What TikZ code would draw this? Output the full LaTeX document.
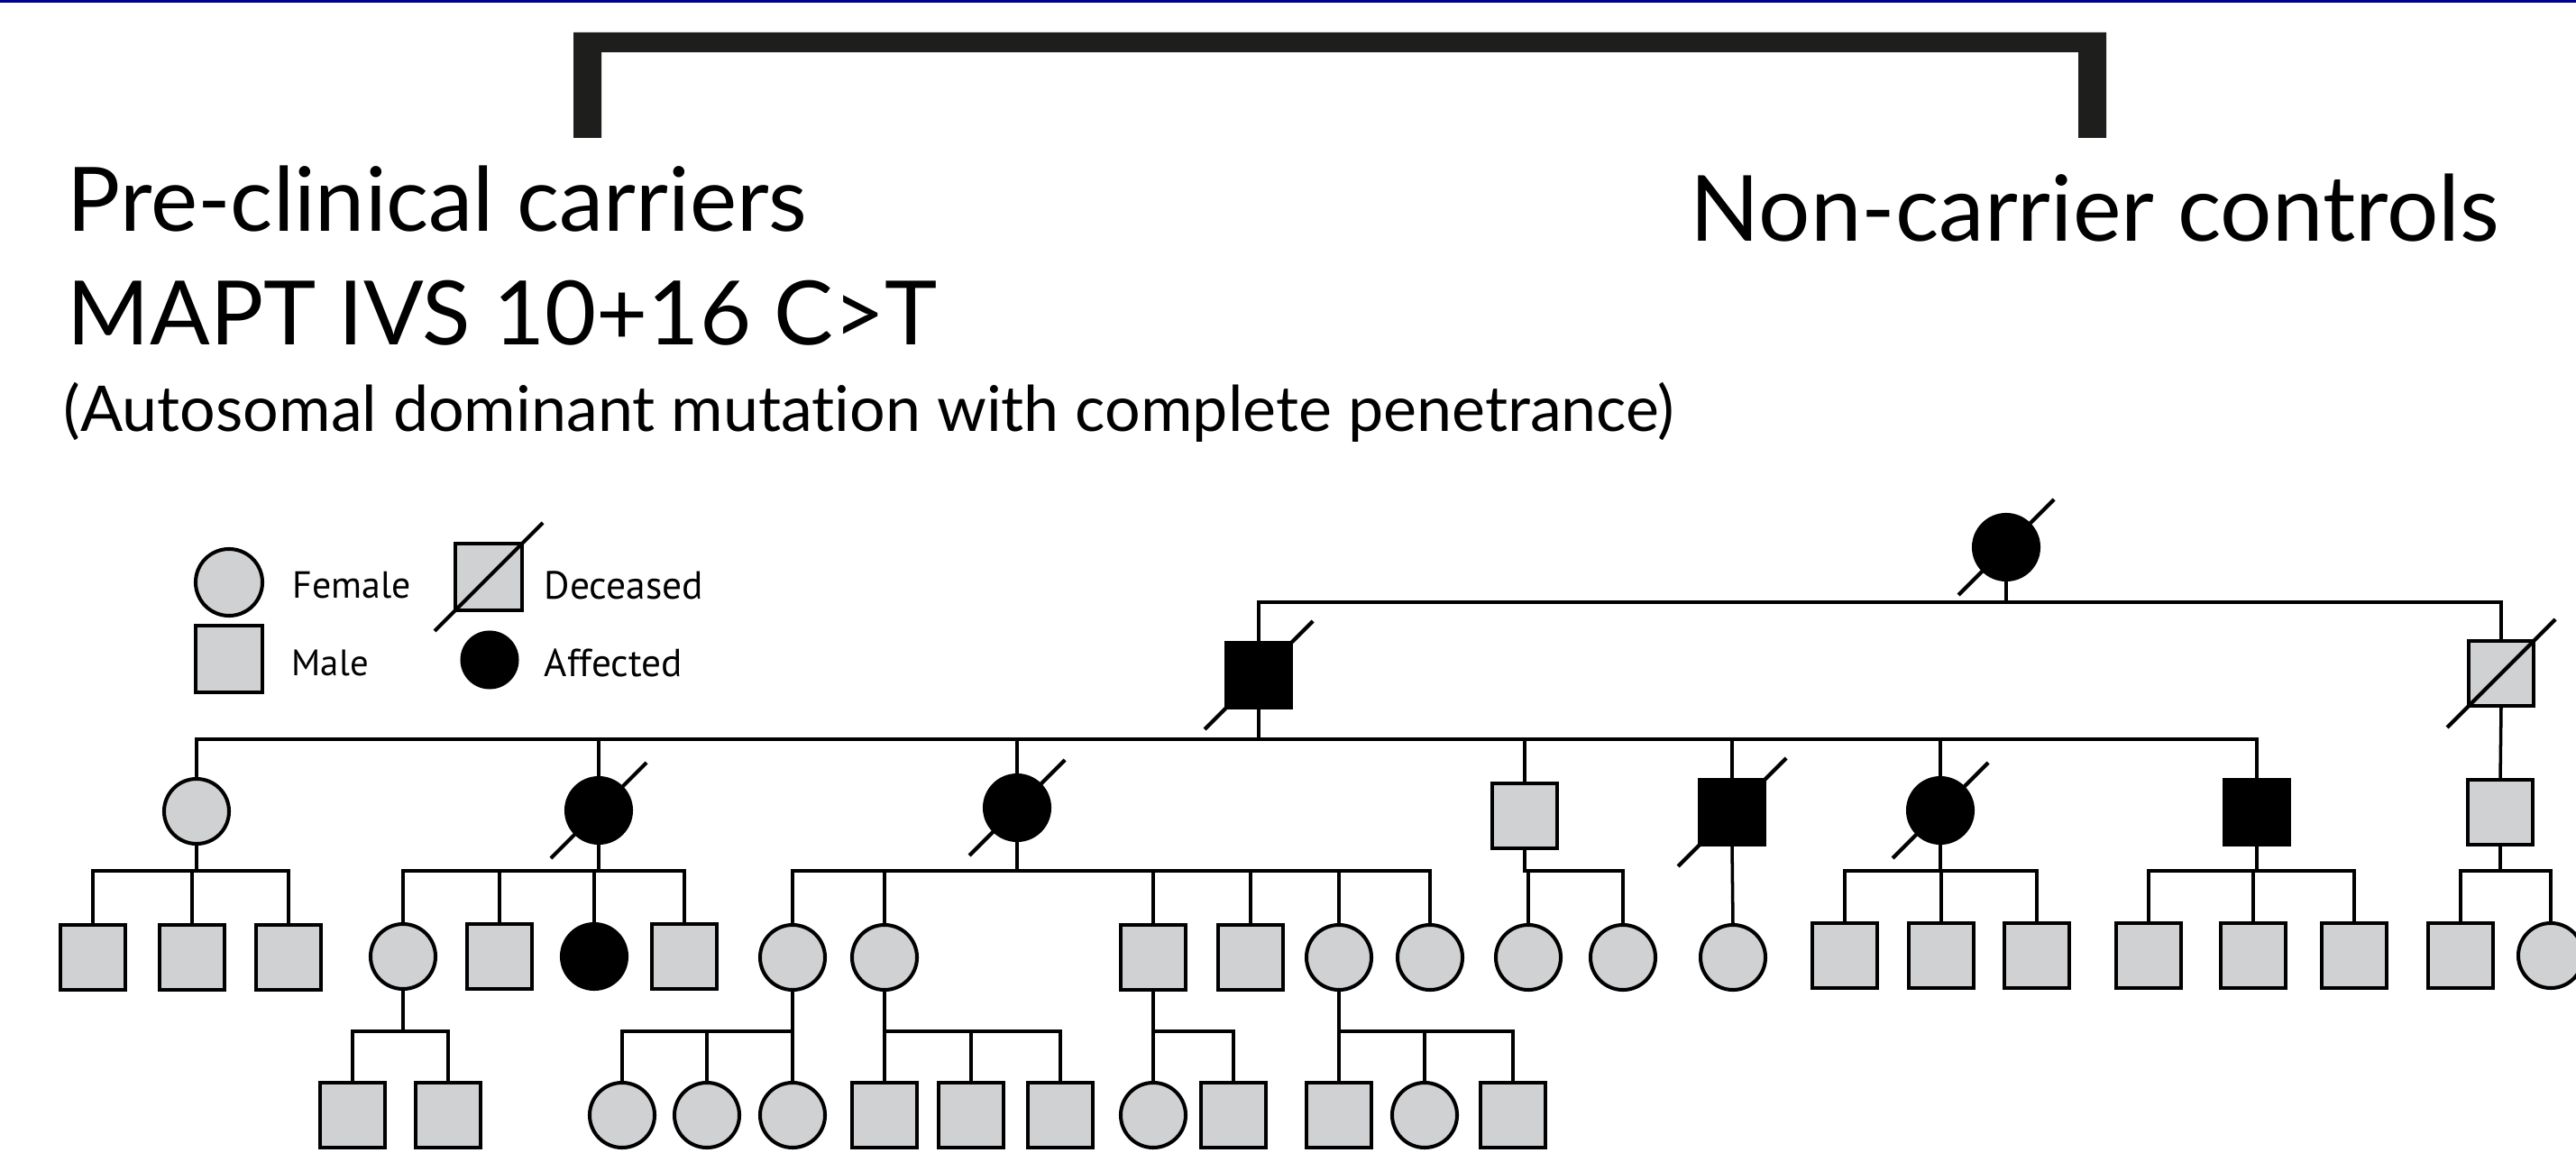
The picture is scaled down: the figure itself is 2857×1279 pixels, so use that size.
\documentclass[tikz,border=0pt]{standalone}
\usepackage{fontspec}
\setmainfont{Lato}[Ligatures=NoCommon]
\newfontfamily\legendfont{PT Sans}
\usetikzlibrary{calc}

\definecolor{pgrey}{RGB}{208,209,211}
\definecolor{barblack}{RGB}{30,30,28}
\definecolor{rulblue}{RGB}{0,0,150}

% scale a text to a given width
\newcommand\fitto[2]{\resizebox{#1}{!}{#2}}

\tikzset{
  person/.style={draw=black, line width=1.15pt, fill=pgrey, minimum size=0.72cm,
                 inner sep=0pt, outer sep=0pt},
  fem/.style={person, circle},
  mal/.style={person, rectangle},
  aff/.style={fill=black},
  conn/.style={line width=1pt, line cap=rect},
  slashline/.style={line width=1.2pt},
  title/.style={anchor=base west, inner sep=0pt},
  legtext/.style={anchor=base west, inner sep=0pt, font=\legendfont},
}

% deceased mark: a diagonal stroke through a symbol
\newcommand\strike[2]{\draw[slashline] ($(#1)+(-#2,#2)$) -- ($(#1)+(#2,-#2)$);}

% sibship: parent, y of the sibship line, leftmost child, rightmost child, all children
\newcommand\sibship[5]{%
  \coordinate (sl) at (0,#2);
  \draw[conn] (#1.south) -- (#1.south |- sl);
  \draw[conn] (#3.north |- sl) -- (#4.north |- sl);
  \foreach \kid in {#5} {\draw[conn] (\kid.north) -- (\kid.north |- sl);}
}

\begin{document}
\begin{tikzpicture}[x=0.01cm, y=-0.01cm]
\fill[white] (0,0) rectangle (2857,1279);
\useasboundingbox (0,0) rectangle (2857,1279);

% top rule
\fill[rulblue] (0,0) rectangle (2857,3);

% bracket
\fill[barblack] (636,36) -- (2336,36) -- (2336,153) -- (2305,153) -- (2305,58)
  -- (667,58) -- (667,153) -- (636,153) -- cycle;

% titles
\node[title] (t1) at (74,257) {\fitto{8.2cm}{Pre-clinical carriers}};
\node[title] (t2) at (74,383) {\fitto{9.64cm}{MAPT IVS 10+16 C>T}};
\node[title] (t3) at (70,478) {\fitto{17.85cm}{(Autosomal dominant mutation with complete penetrance)}};
\node[title] (t4) at (1874,267) {\fitto{8.97cm}{Non-carrier controls}};

% legend
\node[fem, minimum size=0.74cm] (lf) at (254,646) {};
\node[mal, minimum size=0.74cm] (lm) at (254,731) {};
\node[mal, minimum size=0.74cm] (ld) at (542,640) {};
\node[fem, aff, draw=none, minimum size=0.65cm] (la) at (543,732) {};
\strike{ld}{60}
\node[legtext] (lft) at (324,663) {\fitto{1.31cm}{Female}};
\node[legtext] (lmt) at (323,749) {\fitto{0.85cm}{Male}};
\node[legtext] (ldt) at (603,664) {\fitto{1.76cm}{Deceased}};
\node[legtext] (lat) at (603,750) {\fitto{1.53cm}{Affected}};

% generation I
\node[fem, aff] (g1) at (2225,607) {};

% generation II
\node[mal, aff] (m2a) at (1396,749) {};
\node[mal] (m2b) at (2774,747) {};

% generation III
\node[fem] (r3a) at (218,900) {};
\node[fem, aff] (r3b) at (664,899) {};
\node[fem, aff] (r3c) at (1128,896) {};
\node[mal] (r3d) at (1691,905) {};
\node[mal, aff] (r3e) at (1921,901) {};
\node[fem, aff] (r3f) at (2152,899) {};
\node[mal, aff] (r3g) at (2503,901) {};
\node[mal] (r3h) at (2773,901) {};

% generation IV
\node[mal] (r4a1) at (103,1062) {};
\node[mal] (r4a2) at (213,1062) {};
\node[mal] (r4a3) at (320,1062) {};
\node[fem] (r4b1) at (447,1061) {};
\node[mal] (r4b2) at (554,1061) {};
\node[fem, aff] (r4b3) at (659,1061) {};
\node[mal] (r4b4) at (759,1061) {};
\node[fem] (r4c1) at (879,1062) {};
\node[fem] (r4c2) at (981,1062) {};
\node[mal] (r4c3) at (1279,1062) {};
\node[mal] (r4c4) at (1387,1062) {};
\node[fem] (r4c5) at (1485,1062) {};
\node[fem] (r4c6) at (1586,1062) {};
\node[fem] (r4d1) at (1695,1062) {};
\node[fem] (r4d2) at (1800,1062) {};
\node[fem] (r4e1) at (1922,1062) {};
\node[mal] (r4f1) at (2046,1060) {};
\node[mal] (r4f2) at (2153,1060) {};
\node[mal] (r4f3) at (2259,1060) {};
\node[mal] (r4g1) at (2383,1060) {};
\node[mal] (r4g2) at (2499,1060) {};
\node[mal] (r4g3) at (2611,1060) {};
\node[mal] (r4h1) at (2729,1060) {};
\node[fem] (r4h2) at (2829,1060) {};

% generation V
\node[mal] (r5a1) at (391,1237) {};
\node[mal] (r5a2) at (497,1237) {};
\node[fem] (r5b1) at (690,1237) {};
\node[fem] (r5b2) at (784,1237) {};
\node[fem] (r5b3) at (879,1237) {};
\node[mal] (r5c1) at (981,1237) {};
\node[mal] (r5c2) at (1077,1237) {};
\node[mal] (r5c3) at (1176,1237) {};
\node[fem] (r5d1) at (1279,1237) {};
\node[mal] (r5d2) at (1368,1237) {};
\node[mal] (r5e1) at (1485,1237) {};
\node[fem] (r5e2) at (1580,1237) {};
\node[mal] (r5e3) at (1678,1237) {};

% deceased marks
\strike{g1}{53}
\strike{m2a}{60}
\strike{m2b}{60}
\strike{r3b}{53}
\strike{r3c}{53}
\strike{r3e}{60}
\strike{r3f}{53}

% lines of descent
\sibship{g1}{668}{m2a}{m2b}{m2a,m2b}
\sibship{m2a}{820}{r3a}{r3g}{r3a,r3b,r3c,r3d,r3e,r3f,r3g}
\draw[conn] (m2b.south) -- (r3h.north);

\sibship{r3a}{966}{r4a1}{r4a3}{r4a1,r4a2,r4a3}
\sibship{r3b}{966}{r4b1}{r4b4}{r4b1,r4b2,r4b3,r4b4}
\sibship{r3c}{966}{r4c1}{r4c6}{r4c1,r4c2,r4c3,r4c4,r4c5,r4c6}
\sibship{r3d}{966}{r4d1}{r4d2}{r4d1,r4d2}
\draw[conn] (r3e.south) -- (r4e1.north);
\sibship{r3f}{966}{r4f1}{r4f3}{r4f1,r4f2,r4f3}
\sibship{r3g}{966}{r4g1}{r4g3}{r4g1,r4g2,r4g3}
\sibship{r3h}{966}{r4h1}{r4h2}{r4h1,r4h2}

\sibship{r4b1}{1144}{r5a1}{r5a2}{r5a1,r5a2}
\sibship{r4c1}{1144}{r5b1}{r5b3}{r5b1,r5b2,r5b3}
\sibship{r4c2}{1144}{r5c1}{r5c3}{r5c1,r5c2,r5c3}
\sibship{r4c3}{1144}{r5d1}{r5d2}{r5d1,r5d2}
\sibship{r4c5}{1144}{r5e1}{r5e3}{r5e1,r5e2,r5e3}
\end{tikzpicture}
\end{document}
